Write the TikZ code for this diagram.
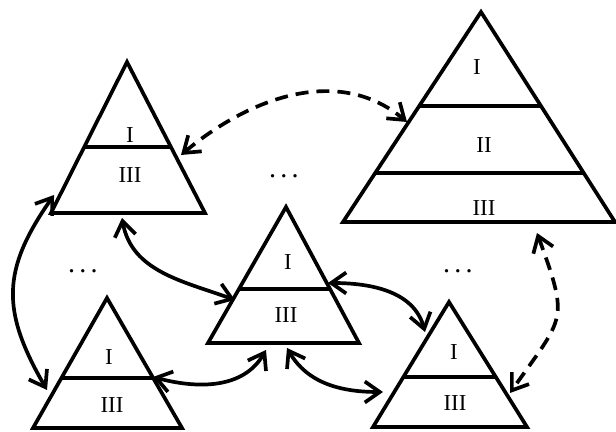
\documentclass[tikz,border=0pt]{standalone}
\usepackage{fontspec}
\setmainfont{Liberation Serif}
\usetikzlibrary{arrows.meta}
\begin{document}
\begin{tikzpicture}[>={Straight Barb[length=3mm,width=4.2mm]},line width=2.1pt,
  lab/.style={font=\fontsize{13}{15}\selectfont,inner sep=0pt},
  dots/.style={font=\fontsize{16}{18}\selectfont,inner sep=0pt},
  dsh/.style={dash pattern=on 2.6mm off 1.6mm}]
\useasboundingbox (0,0) rectangle (12.32,8.64);
% pyramids
\draw (1.02,4.38) -- (2.54,7.40) -- (4.10,4.38) -- cycle;
\draw (1.68,5.70) -- (3.42,5.70);
\draw (6.86,4.20) -- (9.62,8.40) -- (12.30,4.20) -- cycle;
\draw (8.38,6.52) -- (10.82,6.52);
\draw (7.50,5.18) -- (11.68,5.18);
\draw (4.16,1.78) -- (5.72,4.50) -- (7.18,1.78) -- cycle;
\draw (4.78,2.86) -- (6.60,2.86);
\draw (0.66,0.08) -- (2.14,2.68) -- (3.64,0.08) -- cycle;
\draw (1.23,1.08) -- (3.06,1.08);
\draw (7.46,0.10) -- (8.98,2.60) -- (10.54,0.10) -- cycle;
\draw (8.07,1.10) -- (9.92,1.10);
% labels
\node[lab] (tlI) at (2.60,5.94) {I};
\node[lab] (tlIII) at (2.60,5.14) {III};
\node[lab] (trI) at (9.54,7.30) {I};
\node[lab] (trII) at (9.68,5.74) {II};
\node[lab] (trIII) at (9.68,4.48) {III};
\node[lab] (cI) at (5.76,3.40) {I};
\node[lab] (cIII) at (5.72,2.34) {III};
\node[lab] (blI) at (2.18,1.50) {I};
\node[lab] (blIII) at (2.24,0.54) {III};
\node[lab] (brI) at (9.08,1.60) {I};
\node[lab] (brIII) at (9.10,0.58) {III};
\node[dots] (dotsT) at (5.68,5.12) {.\hspace{0.15em}.\hspace{0.15em}.};
\node[dots] (dotsL) at (1.66,3.22) {.\hspace{0.15em}.\hspace{0.15em}.};
\node[dots] (dotsR) at (9.16,3.22) {.\hspace{0.15em}.\hspace{0.15em}.};
% arrow ends
\coordinate (tlR) at (3.62,5.54);
\coordinate (trL) at (8.14,6.20);
\coordinate (trB) at (10.74,3.98);
\coordinate (brR) at (10.20,0.78);
\coordinate (tlL) at (1.08,4.74);
\coordinate (blL) at (0.94,0.84);
\coordinate (tlB) at (2.44,4.28);
\coordinate (cL) at (4.70,2.64);
\coordinate (cR) at (6.56,2.98);
\coordinate (brT) at (8.50,2.00);
\coordinate (cB) at (5.74,1.68);
\coordinate (brL) at (7.66,0.80);
\coordinate (blR) at (3.06,1.10);
\coordinate (cBl) at (5.32,1.64);
\draw[<->,dsh] (tlR) to[out=40,in=140] (trL);
\draw[<->,dsh] (trB) to[out=-70,in=55,looseness=1.5] (brR);
\draw[<->] (tlL) to[out=235,in=120,looseness=1.2] (blL);
\draw[<->] (tlB) to[out=-80,in=160] (cL);
\draw[<->] (cR) to[out=0,in=105] (brT);
\draw[<->] (cB) to[out=-60,in=180] (brL);
\draw[<->] (blR) to[out=-15,in=-120] (cBl);
\end{tikzpicture}
\end{document}
